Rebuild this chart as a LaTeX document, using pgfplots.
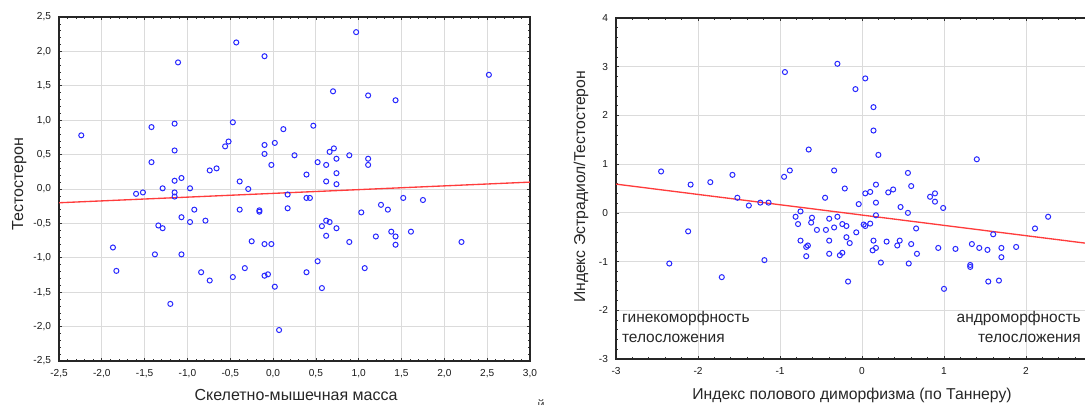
\documentclass[border=0pt]{standalone}
\usepackage{fontspec}
\setmainfont{Liberation Sans}
\usepackage{pgfplots}
\pgfplotsset{compat=1.18}
\definecolor{ptblue}{RGB}{40,40,255}
\definecolor{fitred}{RGB}{255,60,60}

\pgfplotsset{
  scatterbox/.style={
    scale only axis,
    axis line style={black!85, line width=1pt},
    grid=major,
    major grid style={black!14, line width=0.7pt},
    tick align=inside,
    major tick length=2.5pt,
    minor tick length=1.5pt,
    tick style={black!80, line width=0.5pt},
    minor tick num=4,
    ticklabel style={font=\fontsize{7.6}{9}\selectfont, text=black!90},
    yticklabel style={xshift=-2.5pt},
    xticklabel style={yshift=-3pt},
    /pgf/number format/assume math mode=true,
  },
  dots/.style={only marks, mark=o, mark size=1.9pt, ptblue, mark options={line width=0.75pt}},
}

\begin{document}
\begin{tikzpicture}
\useasboundingbox (0,0) rectangle (813.75pt,303pt);
\clip (0,0) rectangle (813.75pt,303pt);

% левый график
\begin{axis}[scatterbox,
  at={(44.25pt,32.25pt)}, anchor=south west,
  width=353.25pt, height=258pt,
  xmin=-2.5, xmax=3, ymin=-2.5, ymax=2.5,
  xtick distance=0.5, ytick distance=0.5,
  /pgf/number format/.cd, use comma, fixed, fixed zerofill, precision=1,
]
\addplot[dots] coordinates {
(-2.24,0.78) (-1.11,1.84) (-0.43,2.13) (-0.10,1.93) (-1.42,0.90) (-1.15,0.95)
(-0.47,0.97) (0.12,0.87) (-0.52,0.69) (-0.56,0.62) (-0.10,0.64) (0.02,0.67)
(-1.15,0.56) (-0.10,0.51) (0.25,0.49) (-1.42,0.39) (-0.02,0.35) (-0.74,0.27)
(-0.66,0.30) (-1.15,0.12) (-1.07,0.16) (-0.39,0.11) (-0.29,0.00) (-1.29,0.01)
(-0.97,0.01) (-1.60,-0.07) (-1.52,-0.05) (-1.15,-0.05) (-1.15,-0.11) (0.17,-0.08)
(-0.92,-0.30) (-0.39,-0.30) (-0.16,-0.31) (-0.16,-0.33) (0.17,-0.28) (-1.07,-0.41)
(-0.97,-0.48) (-0.79,-0.46) (-1.34,-0.53) (-1.29,-0.57) (-1.87,-0.85) (-0.25,-0.76)
(-0.10,-0.80) (-0.02,-0.80) (-1.38,-0.95) (-1.07,-0.95) (-1.83,-1.19) (-0.84,-1.21)
(-0.74,-1.33) (-0.33,-1.15) (-0.47,-1.28) (-0.10,-1.26) (-0.06,-1.24) (0.02,-1.42)
(-1.20,-1.67) (0.07,-2.05) (0.97,2.28) (2.52,1.66) (0.70,1.42) (1.11,1.36)
(1.43,1.29) (0.47,0.92) (0.71,0.59) (0.66,0.54) (0.89,0.49) (0.74,0.44)
(0.52,0.39) (0.62,0.35) (1.11,0.44) (1.11,0.35) (0.39,0.21) (0.74,0.23)
(0.62,0.11) (0.74,0.07) (0.39,-0.13) (0.43,-0.13) (1.52,-0.13) (1.75,-0.16)
(1.26,-0.23) (1.34,-0.30) (1.03,-0.34) (0.62,-0.46) (0.66,-0.48) (0.57,-0.54)
(0.74,-0.57) (0.62,-0.68) (1.20,-0.69) (1.38,-0.62) (1.43,-0.69) (1.61,-0.62)
(1.43,-0.81) (0.89,-0.77) (2.20,-0.77) (0.52,-1.05) (0.39,-1.21) (1.07,-1.15)
(0.57,-1.44)
};
\addplot[fitred, line width=1pt] coordinates {(-2.5,-0.20) (3.0,0.10)};
\end{axis}

% правый график (обрезан справа, как в оригинале)
\begin{axis}[scatterbox,
  at={(462pt,33.75pt)}, anchor=south west,
  width=369pt, height=255.75pt,
  xmin=-3, xmax=3, ymin=-3, ymax=4,
  xtick={-3,-2,-1,0,1,2,3}, xticklabels={-3,-2,-1,0,1,2,},
  ytick distance=1,
]
\addplot[dots] coordinates {
(-0.94,2.89) (-0.30,3.06) (-0.65,1.30) (-2.45,0.85) (-2.09,0.58) (-1.85,0.63)
(-1.58,0.78) (-1.52,0.31) (-1.38,0.15) (-1.24,0.21) (-1.14,0.21) (-0.95,0.74)
(-0.88,0.87) (-0.34,0.87) (-0.21,0.50) (-0.45,0.31) (-2.12,-0.38) (-2.35,-1.04)
(-1.71,-1.32) (-1.19,-0.97) (-0.75,0.03) (-0.81,-0.08) (-0.78,-0.23) (-0.61,-0.10)
(-0.62,-0.20) (-0.55,-0.35) (-0.44,-0.35) (-0.40,-0.12) (-0.34,-0.30) (-0.30,-0.08)
(-0.24,-0.23) (-0.19,-0.27) (-0.19,-0.50) (-0.15,-0.62) (-0.75,-0.57) (-0.66,-0.67)
(-0.68,-0.70) (-0.68,-0.89) (-0.40,-0.57) (-0.40,-0.84) (-0.27,-0.87) (-0.24,-0.82)
(-0.17,-1.41) (0.04,2.76) (-0.08,2.54) (0.14,2.17) (0.14,1.69) (0.20,1.19)
(1.40,1.10) (0.56,0.82) (0.60,0.55) (0.17,0.58) (0.04,0.40) (0.10,0.43)
(0.32,0.42) (0.38,0.48) (0.83,0.33) (0.89,0.40) (0.89,0.23) (0.99,0.10)
(-0.04,0.18) (0.17,0.21) (0.47,0.12) (0.56,0.00) (0.17,-0.05) (0.02,-0.24)
(0.04,-0.27) (0.10,-0.22) (-0.07,-0.40) (0.14,-0.57) (0.13,-0.77) (0.17,-0.72)
(0.30,-0.59) (0.43,-0.67) (0.46,-0.57) (0.60,-0.64) (0.66,-0.32) (0.67,-0.84)
(0.23,-1.02) (0.57,-1.04) (0.93,-0.72) (1.14,-0.74) (1.34,-0.64) (1.43,-0.72)
(1.53,-0.76) (1.60,-0.44) (1.70,-0.72) (1.70,-0.91) (1.88,-0.70) (2.11,-0.32)
(2.27,-0.08) (1.32,-1.07) (1.32,-1.11) (1.54,-1.41) (1.67,-1.39) (1.00,-1.56)
};
\addplot[fitred, line width=1pt] coordinates {(-3,0.59) (3,-0.68)};
\node[anchor=north west, align=left, inner sep=0pt, text=black!85,
  font=\fontsize{11.6}{15}\selectfont] at (axis cs:-2.93,-2.02)
  {гинекоморфность\\телосложения};
\node[anchor=north east, align=right, inner sep=0pt, text=black!85,
  font=\fontsize{11.6}{15}\selectfont] at (axis cs:2.67,-2.02)
  {андроморфность\\телосложения};
\end{axis}

% подписи осей
\node[anchor=base, font=\fontsize{12}{14}\selectfont, text=black!85] at (222pt,3pt)
  {Скелетно-мышечная масса};
\node[anchor=base, rotate=90, font=\fontsize{12}{14}\selectfont, text=black!85] at (17.25pt,165pt)
  {Тестостерон};
\node[anchor=base, font=\fontsize{11.8}{14}\selectfont, text=black!85] at (639pt,3.75pt)
  {Индекс полового диморфизма (по Таннеру)};
\node[anchor=base, rotate=90, font=\fontsize{11.8}{14}\selectfont, text=black!85] at (438.75pt,162.75pt)
  {Индекс Эстрадиол/Тестостерон};
\node[anchor=base, font=\fontsize{10}{12}\selectfont, text=black!70] at (405.75pt,-4pt) {й};
\end{tikzpicture}
\end{document}
